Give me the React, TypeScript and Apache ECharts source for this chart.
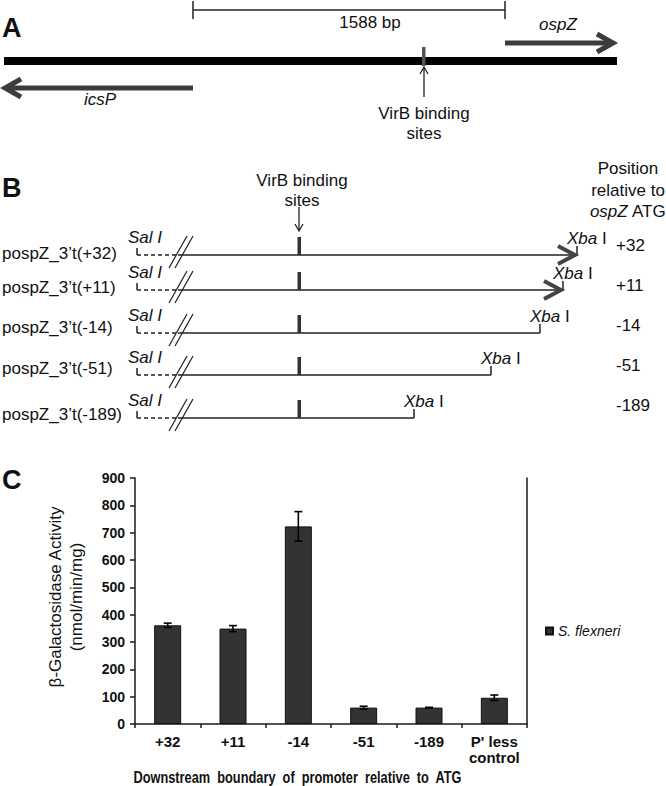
import React, { useEffect, useRef } from "react";
import * as echarts from "echarts";

// ---------- Panel C data ----------
const categories = ["+32", "+11", "-14", "-51", "-189", "P' less\ncontrol"];
const activity = [361, 349, 723, 60, 60, 96];
const activityError = [8, 11, 54, 5, 1, 10];
const seriesName = "S. flexneri";
const yMin = 0;
const yMax = 900;
const yInterval = 100;

// ---------- Panel B data ----------
const constructLabels = [
  "pospZ_3\u2019t(+32)",
  "pospZ_3\u2019t(+11)",
  "pospZ_3\u2019t(-14)",
  "pospZ_3\u2019t(-51)",
  "pospZ_3\u2019t(-189)",
];
const constructPositions = ["+32", "+11", "-14", "-51", "-189"];
const constructHasArrow = [true, true, false, false, false];

// ---------- layout (schematic positions) ----------
const rowY = [255, 290, 333, 375, 418];
const rowLabelY = [253, 287, 327, 368, 414];
const rowEndX = [577, 563, 540, 491, 414];
const rowPosY = [245, 285, 325, 365, 405];

const FONT = "'Liberation Sans', Arial, Helvetica, sans-serif";
const INK = "#111";

function txt(x: number, y: number, text: string, extra: any = {}) {
  return {
    type: "text",
    x,
    y,
    silent: true,
    style: {
      text,
      fontSize: 17,
      fontFamily: FONT,
      fill: INK,
      align: "center",
      verticalAlign: "middle",
      ...extra,
    },
  };
}

function ln(x1: number, y1: number, x2: number, y2: number, lw = 1.5, color = "#222", extra: any = {}) {
  return {
    type: "line",
    silent: true,
    shape: { x1, y1, x2, y2 },
    style: { stroke: color, lineWidth: lw, ...extra },
  };
}

function poly(points: number[][], lw: number, color: string) {
  return {
    type: "polyline",
    silent: true,
    shape: { points },
    style: { stroke: color, lineWidth: lw, fill: null, lineJoin: "miter" },
  };
}

const richStyles = {
  i: { fontStyle: "italic", fontSize: 17, fontFamily: FONT, fill: INK },
  n: { fontStyle: "normal", fontSize: 17, fontFamily: FONT, fill: INK },
};

function buildGraphics() {
  const g: any[] = [];
  const panelLetter = (x: number, y: number, t: string) =>
    txt(x, y, t, { fontSize: 27, fontWeight: 900, align: "left" });

  // ----- Panel A -----
  g.push(panelLetter(2, 28, "A"));
  g.push(ln(193, 10, 505, 10, 1.5));
  g.push(ln(193, 1, 193, 19, 1.5));
  g.push(ln(505, 1, 505, 19, 1.5));
  g.push(txt(370, 22, "1588 bp"));
  // ospZ arrow
  g.push(ln(505, 43, 610, 43, 5, "#3c3c3c"));
  g.push(poly([[597, 34], [613, 43], [597, 52]], 5, "#3c3c3c"));
  g.push(txt(558, 24, "ospZ", { fontStyle: "italic" }));
  // main DNA line
  g.push({ type: "rect", silent: true, shape: { x: 4, y: 57, width: 613, height: 8 }, style: { fill: "#000" } });
  g.push({ type: "rect", silent: true, shape: { x: 422, y: 47, width: 3.5, height: 19 }, style: { fill: "#555" } });
  // arrow to VirB sites
  g.push(ln(424, 97, 424, 67, 1.3));
  g.push(poly([[420, 74], [424, 67], [428, 74]], 1.3, "#222"));
  g.push(txt(424, 113, "VirB binding"));
  g.push(txt(424, 133, "sites"));
  // icsP arrow
  g.push(ln(193, 88, 8, 88, 5, "#3c3c3c"));
  g.push(poly([[21, 79], [5, 88], [21, 97]], 5, "#3c3c3c"));
  g.push(txt(100, 99, "icsP", { fontStyle: "italic" }));

  // ----- Panel B -----
  g.push(panelLetter(2, 188, "B"));
  g.push(txt(302, 180, "VirB binding"));
  g.push(txt(302, 200, "sites"));
  g.push(ln(299, 207, 299, 231, 1.3));
  g.push(poly([[295, 224], [299, 231], [303, 224]], 1.3, "#222"));
  g.push(txt(628, 168, "Position"));
  g.push(txt(628, 190, "relative to"));
  g.push(txt(628, 211, "{i|ospZ}{n| ATG}", { rich: richStyles }));

  constructLabels.forEach((label, k) => {
    const y = rowY[k];
    const end = rowEndX[k];
    g.push(txt(2, rowLabelY[k], label, { align: "left" }));
    // SalI end marker
    g.push(ln(137, y - 7, 137, y, 1.5));
    g.push(ln(137, y, 178, y, 1.5, "#222", { lineDash: [4, 3] }));
    g.push(txt(145, y - 18, "Sal I", { fontStyle: "italic" }));
    // break marks
    g.push(ln(169, y + 13, 187, y - 19, 1.2));
    g.push(ln(175, y + 13, 193, y - 19, 1.2));
    // insert line
    g.push(ln(178, y, end, y, 1.5));
    // VirB sites
    g.push({ type: "rect", silent: true, shape: { x: 297.5, y: y - 18, width: 3.5, height: 18 }, style: { fill: "#333" } });
    // XbaI end
    g.push(ln(end, y - 9, end, y, 1.5));
    if (constructHasArrow[k]) {
      g.push(poly([[end - 19, y - 9], [end - 2, y], [end - 19, y + 9]], 4, "#444"));
    }
    g.push(txt(end - 10, y - 17, "{i|Xba}{n| I}", { rich: richStyles, align: "left" }));
    g.push(txt(616, rowPosY[k], constructPositions[k], { align: "left" }));
  });

  // ----- Panel C -----
  g.push(panelLetter(2, 480, "C"));
  g.push({
    type: "text",
    x: 66,
    y: 597,
    rotation: Math.PI / 2,
    silent: true,
    style: {
      text: "\u03b2-Galactosidase Activity\n(nmol/min/mg)",
      fontSize: 17,
      fontFamily: FONT,
      fill: INK,
      align: "center",
      verticalAlign: "middle",
      lineHeight: 21,
    },
  });
  g.push({
    type: "text",
    x: 297.5,
    y: 777,
    scaleX: 0.8,
    silent: true,
    style: {
      text: "Downstream  boundary  of  promoter  relative  to  ATG",
      fontSize: 16,
      fontWeight: "bold",
      fontFamily: FONT,
      fill: INK,
      align: "center",
      verticalAlign: "middle",
    },
  });
  return g;
}

export default function App() {
  const ref = useRef<HTMLDivElement>(null);
  useEffect(() => {
    if (!ref.current) return;
    const chart = echarts.init(ref.current, undefined, { renderer: "svg" });
    const axisColor = "#1a1a1a";
    chart.setOption({
      animation: false,
      backgroundColor: "#fff",
      textStyle: { fontFamily: FONT },
      grid: { left: 135, right: 139, top: 478, bottom: 62, containLabel: false },
      legend: {
        data: [seriesName],
        left: 540,
        top: 619,
        itemWidth: 7,
        itemHeight: 7,
        icon: "rect",
        textStyle: { fontSize: 14, fontStyle: "italic", color: INK, fontFamily: FONT },
      },
      xAxis: {
        type: "category",
        data: categories,
        axisLine: { show: true, lineStyle: { color: axisColor, width: 1.5 } },
        axisTick: { show: true, length: 4, lineStyle: { color: axisColor, width: 1.5 } },
        axisLabel: {
          interval: 0,
          fontSize: 15,
          fontWeight: "bold",
          color: INK,
          margin: 9,
          lineHeight: 16,
          fontFamily: FONT,
        },
        splitLine: { show: false },
      },
      yAxis: [
        {
          type: "value",
          min: yMin,
          max: yMax,
          interval: yInterval,
          axisLine: { show: true, lineStyle: { color: axisColor, width: 1.5 } },
          axisTick: { show: true, length: 5, lineStyle: { color: axisColor, width: 1.5 } },
          axisLabel: { fontSize: 14, fontWeight: "bold", color: INK, margin: 10, fontFamily: FONT },
          splitLine: { show: false },
        },
        {
          type: "value",
          position: "right",
          min: yMin,
          max: yMax,
          interval: yInterval,
          axisLine: { show: true, lineStyle: { color: axisColor, width: 1.5 } },
          axisTick: { show: false },
          axisLabel: { show: false },
          splitLine: { show: false },
        },
      ],
      series: [
        {
          name: seriesName,
          type: "bar",
          data: activity,
          barWidth: 27,
          itemStyle: { color: "#333333", borderColor: "#111", borderWidth: 1 },
        },
        {
          name: "error",
          type: "custom",
          data: activity.map((v, i) => [i, v - activityError[i], v + activityError[i]]),
          encode: { x: 0, y: [1, 2] },
          z: 10,
          renderItem: (params: any, api: any) => {
            const i = api.value(0);
            const lo = api.coord([i, api.value(1)]);
            const hi = api.coord([i, api.value(2)]);
            const hw = 4;
            const st = { stroke: "#000", lineWidth: 1.6 };
            return {
              type: "group",
              children: [
                { type: "line", shape: { x1: lo[0], y1: lo[1], x2: hi[0], y2: hi[1] }, style: st },
                { type: "line", shape: { x1: lo[0] - hw, y1: lo[1], x2: lo[0] + hw, y2: lo[1] }, style: st },
                { type: "line", shape: { x1: hi[0] - hw, y1: hi[1], x2: hi[0] + hw, y2: hi[1] }, style: st },
              ],
            };
          },
        },
      ],
      graphic: buildGraphics(),
    });
    return () => chart.dispose();
  }, []);
  return (
    <div
      ref={ref}
      style={{ position: "absolute", left: 0, top: 0, width: 666, height: 786, background: "#fff" }}
    />
  );
}
